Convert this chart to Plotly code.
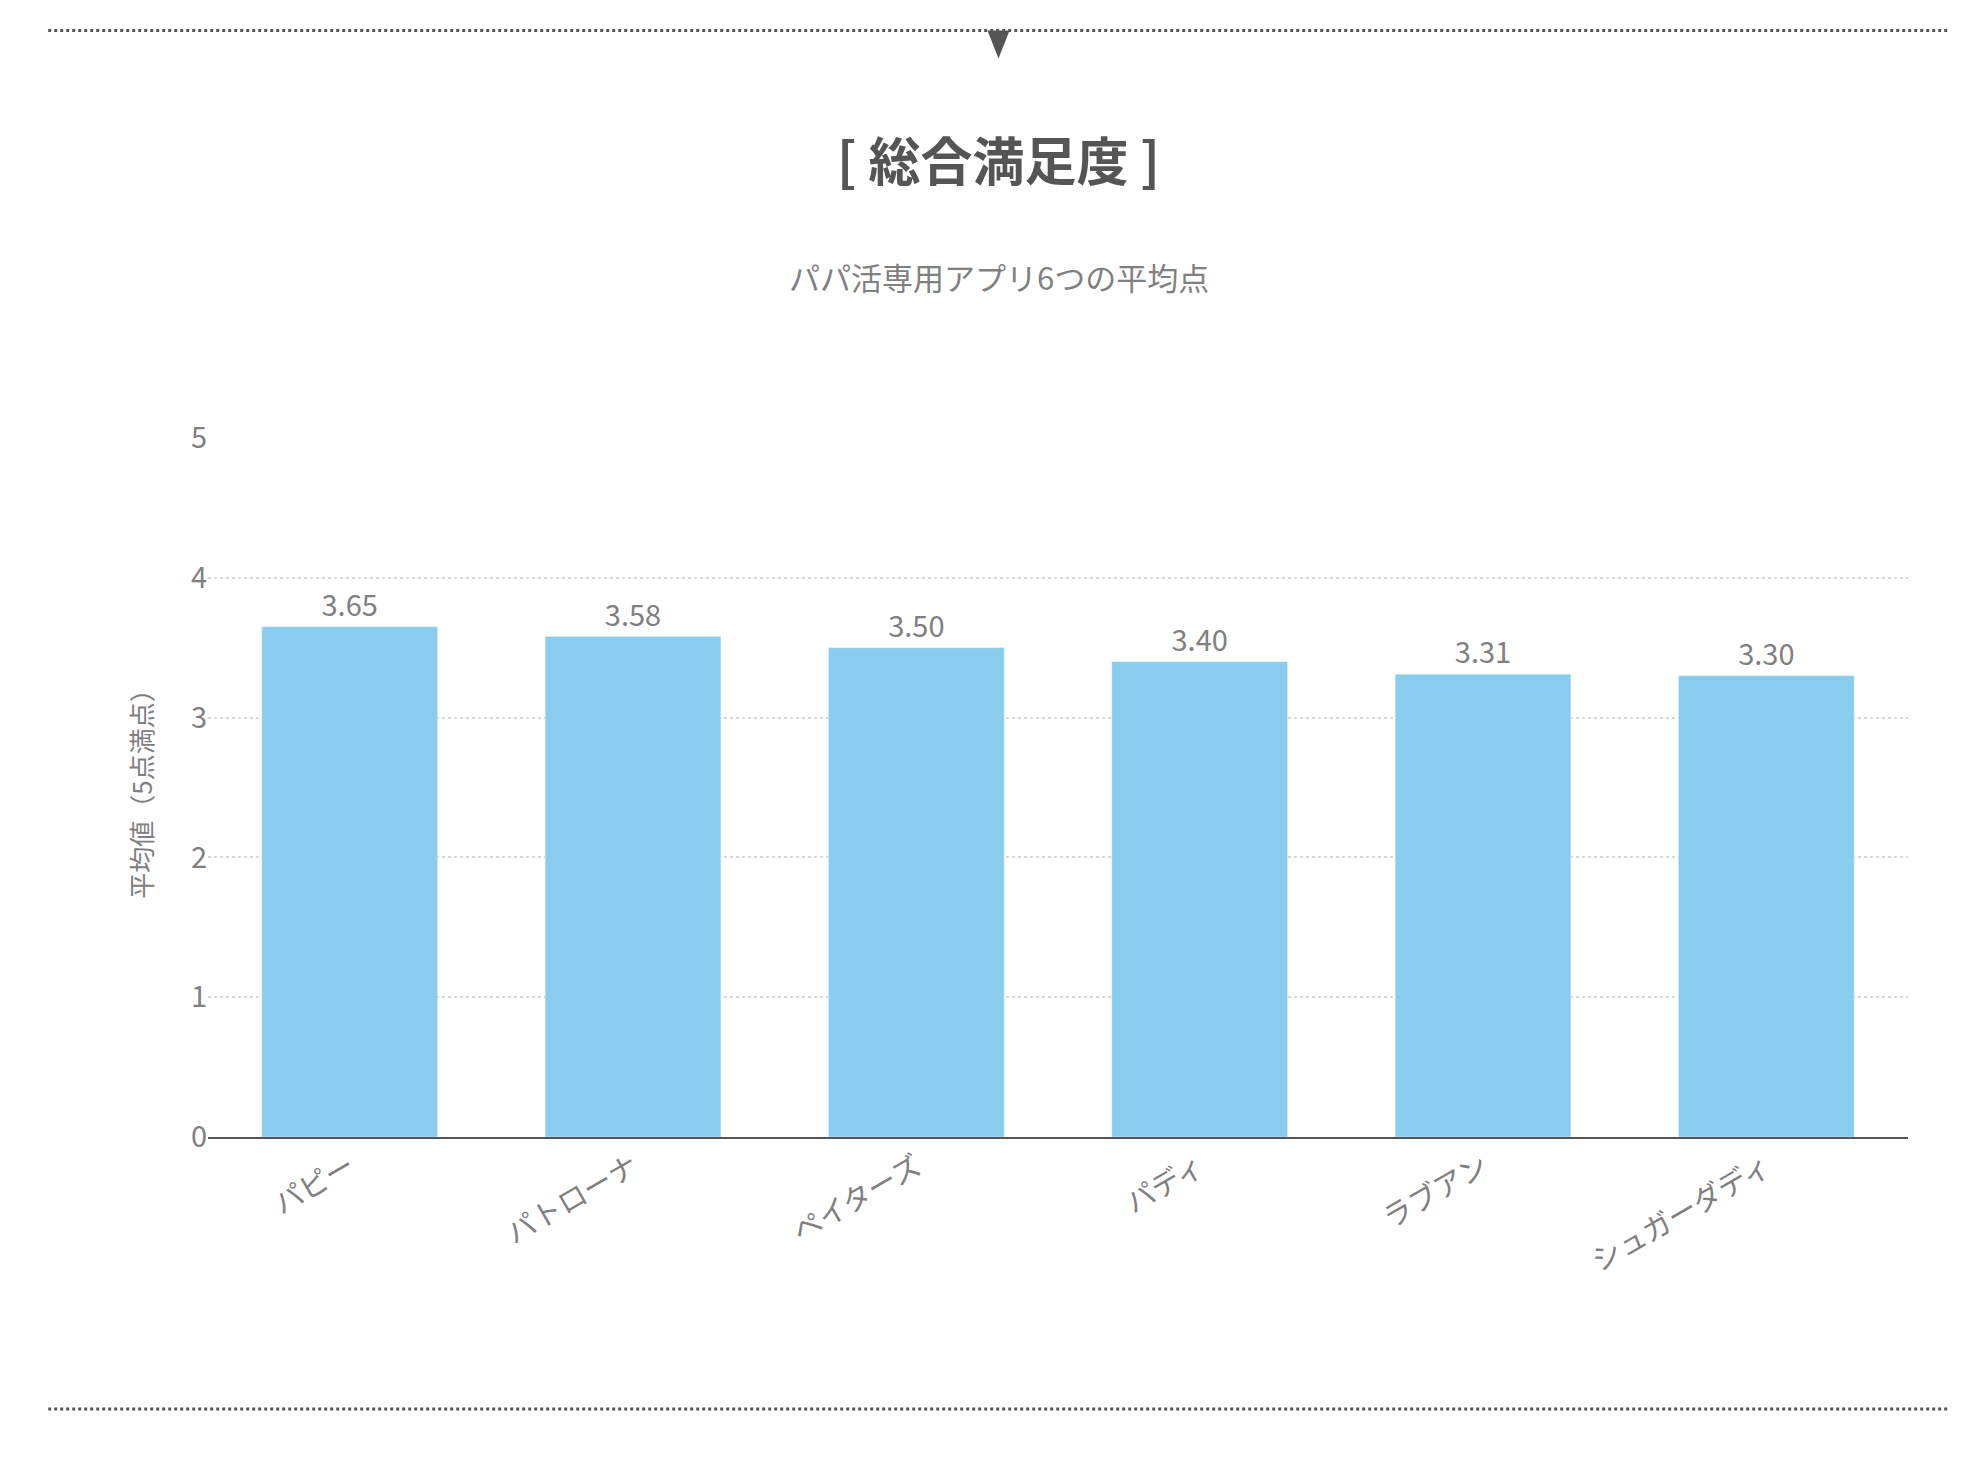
import plotly.graph_objects as go

apps = ["パピー", "パトローナ", "ペイターズ", "パディ", "ラブアン", "シュガーダディ"]
scores = [3.65, 3.58, 3.50, 3.40, 3.31, 3.30]
y_ticks = [0, 1, 2, 3, 4, 5]

font = "Noto Sans CJK JP"
gray = "#808080"
cx = 0.465

fig = go.Figure(go.Bar(
    x=apps, y=scores, width=0.62, marker_color="#89CCEE",
    text=[f"{v:.2f}" for v in scores], textposition="outside",
    textfont=dict(size=29, color=gray, family=font), cliponaxis=False,
))
fig.update_layout(
    width=1980, height=1460, paper_bgcolor="white", plot_bgcolor="white",
    margin=dict(l=200, r=80, t=430, b=331),
    font=dict(family=font, color=gray),
    showlegend=False,
    yaxis=dict(range=[0, 5], tickvals=y_ticks, showgrid=True, gridcolor="#d8d8d8",
               griddash="dot", gridwidth=1.5, zeroline=False, tickfont=dict(size=29, color=gray),
               ticks="", ticklen=0, automargin=False,
               title=dict(text="平均値（5点満点）", font=dict(size=26, color=gray), standoff=30)),
    xaxis=dict(tickangle=-30, tickfont=dict(size=29, color=gray), showline=True,
               linecolor="#555", linewidth=2, ticks="", automargin=False),
    shapes=[
        dict(type="line", xref="paper", yref="paper", x0=-0.094, x1=1.024, y0=1.583, y1=1.583,
             line=dict(color="#555", width=3, dash="dot")),
        dict(type="line", xref="paper", yref="paper", x0=-0.094, x1=1.024, y0=-0.389, y1=-0.389,
             line=dict(color="#555", width=3, dash="dot")),
        dict(type="path", xref="paper", yref="paper",
             path=f"M {cx-0.0065} 1.583 L {cx+0.0065} 1.583 L {cx} 1.543 Z", fillcolor="#555", line=dict(width=0)),
    ],
    annotations=[
        dict(text="<b>[ 総合満足度 ]</b>", xref="paper", yref="paper", x=cx, y=1.457,
             showarrow=False, font=dict(size=52, color="#555", family=font)),
        dict(text="パパ活専用アプリ6つの平均点", xref="paper", yref="paper", x=cx, y=1.266,
             showarrow=False, font=dict(size=31, color=gray, family=font)),
    ],
)
fig.write_html("out.html")
